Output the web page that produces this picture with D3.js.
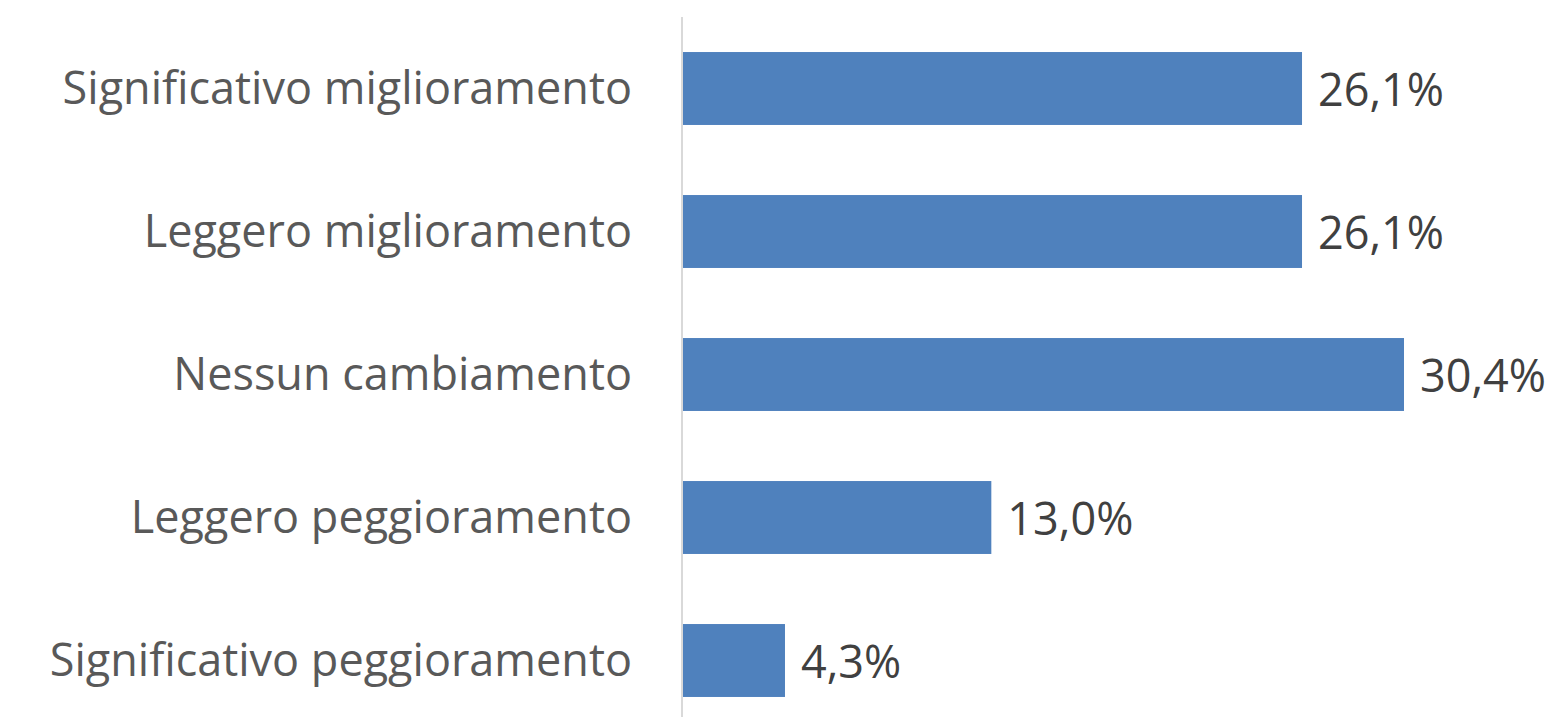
<!DOCTYPE html>
<html>
<head>
<meta charset="utf-8">
<script src="https://cdn.jsdelivr.net/npm/d3@7"></script>
<style>
  body { margin: 0; background: #fff; }
  text { font-family: "Open Sans", "Noto Sans", sans-serif; }
</style>
</head>
<body>
<script>
// data
var categories = ["Significativo miglioramento", "Leggero miglioramento", "Nessun cambiamento", "Leggero peggioramento", "Significativo peggioramento"];
var values = [26.1, 26.1, 30.4, 13.0, 4.3];
var valueLabels = ["26,1%", "26,1%", "30,4%", "13,0%", "4,3%"];

var w = 1560, h = 717;

var svg = d3.select("body").append("svg")
    .attr("width", w)
    .attr("height", h);

var x = d3.scaleLinear()
    .domain([0, 30.4])
    .range([683, 1404]);

var y = d3.scaleBand()
    .domain(categories)
    .range([17, 732])
    .paddingInner(0.49)
    .paddingOuter(0.245);

// bars
svg.selectAll("rect.bar")
  .data(values)
  .enter().append("rect")
    .attr("class", "bar")
    .attr("x", x(0))
    .attr("y", function(d, i) { return y(categories[i]); })
    .attr("width", function(d) { return x(d) - x(0); })
    .attr("height", y.bandwidth())
    .attr("fill", "#4f81bd");

// value labels
svg.selectAll("text.val")
  .data(values)
  .enter().append("text")
    .attr("class", "val")
    .attr("x", function(d) { return x(d) + 16; })
    .attr("y", function(d, i) { return y(categories[i]) + y.bandwidth() / 2; })
    .attr("dy", "0.38em")
    .attr("fill", "#404040")
    .attr("font-size", 45)
    .text(function(d, i) { return valueLabels[i]; });

// category axis
var axis = svg.append("g")
    .attr("transform", "translate(682,0)")
    .call(d3.axisLeft(y).tickSize(0).tickPadding(50));

axis.select(".domain").remove();
axis.selectAll("text")
    .attr("fill", "#595959")
    .attr("font-size", 45)
    .attr("dy", "0.34em")
    .style("font-family", "'Open Sans', 'Noto Sans', sans-serif");

svg.append("line")
    .attr("x1", 682).attr("x2", 682)
    .attr("y1", 17).attr("y2", h)
    .attr("stroke", "#d9d9d9")
    .attr("stroke-width", 2);
</script>
</body>
</html>
